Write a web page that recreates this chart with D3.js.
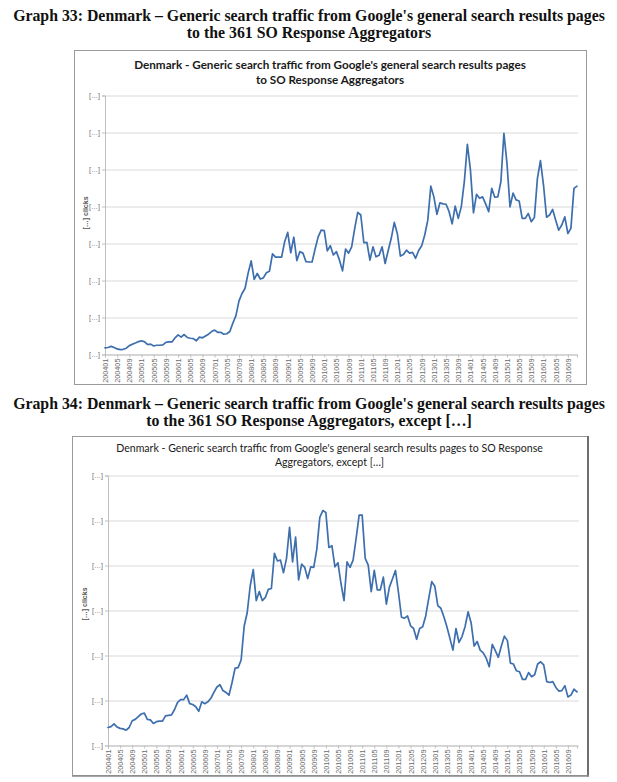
<!DOCTYPE html>
<html><head><meta charset="utf-8">
<script src="https://cdn.jsdelivr.net/npm/d3@7"></script>
<style>html,body{margin:0;padding:0;background:#fff}svg{display:block}</style>
</head><body>
<svg id="c" width="617" height="782"></svg>
<script>
// ---------- DATA ----------
const tickLabels = ["200401","200405","200409","200501","200505","200509","200601","200605","200609",
  "200701","200705","200709","200801","200805","200809","200901","200905","200909",
  "201001","201005","201009","201101","201105","201109","201201","201205","201209",
  "201301","201305","201309","201401","201405","201409","201501","201505","201509",
  "201601","201605","201609"];
const yTickLabel = "[…]";
const axisTitle = "[…] clicks";

// Graph 33: all 361 SO Response Aggregators (relative units, 1 = one gridline)
const traffic33 = [
  0.18,0.19,0.22,0.19,0.15,0.13,0.14,0.17,0.24,0.28,
  0.31,0.35,0.37,0.34,0.27,0.28,0.23,0.25,0.25,0.26,
  0.33,0.34,0.34,0.45,0.53,0.47,0.54,0.46,0.44,0.43,
  0.37,0.47,0.45,0.50,0.55,0.62,0.66,0.60,0.60,0.55,
  0.56,0.62,
  0.85,1.05,1.45,1.65,1.79,2.20,2.53,2.03,2.19,2.04,
  2.07,2.21,2.25,2.72,2.63,2.63,2.63,3.05,3.30,2.75,
  3.17,2.54,2.78,2.74,2.51,2.50,2.50,2.85,3.18,3.36,
  3.35,2.80,2.94,2.69,2.78,2.55,2.26,2.85,2.74,2.91,
  3.41,3.84,3.77,3.02,3.03,2.55,2.91,2.64,2.68,2.91,
  2.46,2.81,3.14,3.57,3.27,2.66,2.70,2.82,2.74,2.76,
  2.60,2.81,2.94,3.23,3.63,4.55,4.26,3.79,4.10,4.07,
  4.06,3.86,3.53,4.01,3.68,3.99,4.67,5.68,4.99,3.83,
  4.33,4.22,4.26,4.07,3.86,4.49,4.25,4.26,4.67,5.98,
  5.17,3.99,4.36,4.18,4.15,3.68,3.68,3.81,3.59,3.70,
  4.76,5.24,4.58,3.71,3.77,3.92,3.63,3.36,3.50,3.72,
  3.27,3.41,4.49,4.55
];

// Graph 34: all aggregators except […]
const traffic34 = [
  0.40,0.42,0.48,0.41,0.38,0.37,0.34,0.40,0.55,0.58,
  0.64,0.70,0.72,0.58,0.57,0.49,0.53,0.54,0.54,0.66,
  0.67,0.68,0.80,0.96,1.02,1.02,1.12,0.93,0.91,0.86,
  0.76,0.97,0.93,0.97,1.05,1.18,1.30,1.35,1.22,1.18,
  1.12,1.40,1.72,1.73,1.90,2.65,2.95,3.55,3.91,3.22,
  3.42,3.22,3.29,3.47,3.49,4.27,4.10,4.12,3.84,4.16,
  4.85,4.08,4.63,3.68,4.03,3.96,3.71,3.97,3.96,4.36,
  5.07,5.22,5.18,4.40,4.44,3.97,4.06,3.60,3.22,4.08,
  3.96,4.12,4.60,5.12,5.12,4.16,4.01,3.42,3.89,3.46,
  3.46,3.74,3.14,3.52,3.70,3.89,3.40,2.85,2.83,2.88,
  2.66,2.60,2.36,2.60,2.64,2.88,3.27,3.64,3.54,3.11,
  3.05,2.86,2.64,2.38,2.12,2.60,2.29,2.42,2.64,2.97,
  2.73,2.21,2.31,2.12,2.06,1.94,1.75,2.25,2.11,1.96,
  2.21,2.43,2.33,1.83,1.81,1.66,1.64,1.47,1.47,1.62,
  1.53,1.57,1.81,1.86,1.79,1.42,1.40,1.42,1.29,1.21,
  1.22,1.33,1.08,1.12,1.25,1.19
];

const heading33 = ["Graph 33: Denmark – Generic search traffic from Google's general search results pages",
                   "to the 361 SO Response Aggregators"];
const heading34 = ["Graph 34: Denmark – Generic search traffic from Google's general search results pages",
                   "to the 361 SO Response Aggregators, except […]"];
const title33 = ["Denmark - Generic search traffic from Google's general search results pages",
                 "to SO Response Aggregators"];
const title34 = ["Denmark - Generic search traffic from Google's general search results pages to SO Response",
                 "Aggregators, except […]"];
const yMax33 = 7, yMax34 = 6;

// ---------- DRAWING ----------
const svg = d3.select("#c");
svg.append("rect").attr("width",617).attr("height",782).attr("fill","#fff");

function fitText(sel, width) {
  const w = sel.node().getComputedTextLength();
  const fs = parseFloat(sel.style("font-size"));
  sel.style("font-size", (fs * width / w) + "px");
}

function heading(lines, y0, width) {
  const t1 = svg.append("text").attr("x",309).attr("y",y0).attr("text-anchor","middle")
    .style("font-family","'Liberation Serif','Times New Roman',serif").style("font-weight","bold")
    .style("font-size","14px").attr("fill","#111").text(lines[0]);
  fitText(t1, width);
  svg.append("text").attr("x",309).attr("y",y0+17).attr("text-anchor","middle")
    .style("font-family","'Liberation Serif','Times New Roman',serif").style("font-weight","bold")
    .style("font-size",t1.style("font-size")).attr("fill","#111").text(lines[1]);
}
heading(heading33, 21, 592);
heading(heading34, 409, 592);

function drawChart(o) {
  const g = svg.append("g");
  // frame
  g.append("rect").attr("x",o.fx+0.5).attr("y",o.fy+0.5).attr("width",o.fw).attr("height",o.fh)
    .attr("fill","#fff").attr("stroke",o.frameColor).attr("stroke-width",1);
  if (o.shadow) {
    g.append("line").attr("x1",o.fx+o.fw+1).attr("x2",o.fx+o.fw+1).attr("y1",o.fy).attr("y2",o.fy+o.fh+1.5)
      .attr("stroke","#6f6f6f").attr("stroke-width",2);
    g.append("line").attr("x1",o.fx).attr("x2",o.fx+o.fw+2).attr("y1",o.fy+o.fh+1).attr("y2",o.fy+o.fh+1)
      .attr("stroke","#8a8a8a").attr("stroke-width",1.5);
  }
  // title
  const cx = o.fx + o.fw/2;
  const tt = g.append("text").attr("x",cx).attr("y",o.ty).attr("text-anchor","middle")
    .style("font-family","Lato,'Open Sans',sans-serif").style("font-weight",o.titleWeight)
    .style("font-size","11px").attr("fill","#1a1a1a").text(o.title[0]);
  fitText(tt, o.titleWidth);
  g.append("text").attr("x",cx).attr("y",o.ty+o.tdy).attr("text-anchor","middle")
    .style("font-family","Lato,'Open Sans',sans-serif").style("font-weight",o.titleWeight)
    .style("font-size",tt.style("font-size")).attr("fill","#1a1a1a").text(o.title[1]);

  const n = o.data.length;
  const x = d3.scaleLinear().domain([0, n-1]).range([o.x0, o.x1]);
  const y = d3.scaleLinear().domain([0, o.yMax]).range([o.y0, o.y1]);

  // gridlines
  const grid = g.append("g").attr("transform",`translate(${o.x0},0)`)
    .call(d3.axisLeft(y).tickValues(d3.range(0,o.yMax+1)).tickSize(-(o.gx1-o.x0)).tickFormat(""));
  grid.select(".domain").remove();
  grid.selectAll("line").attr("stroke","#d9d9d9").attr("stroke-width",1);

  // y axis
  const ya = g.append("g").attr("transform",`translate(${o.x0},0)`)
    .call(d3.axisLeft(y).tickValues(d3.range(0,o.yMax+1)).tickSize(3).tickPadding(2).tickFormat(()=>yTickLabel));
  ya.select(".domain").attr("stroke","#bfbfbf");
  ya.selectAll("line").attr("stroke","#bfbfbf");
  ya.selectAll("text").style("font-family","'Liberation Sans',Arial,sans-serif")
    .style("font-size","7px").attr("fill","#6b6b6b");

  // x axis
  const idx = d3.range(0, n, 4).slice(0, tickLabels.length);
  const xa = g.append("g").attr("transform",`translate(0,${o.y0})`)
    .call(d3.axisBottom(x).tickValues(idx).tickSize(3).tickFormat((d,i)=>tickLabels[i]));
  xa.select(".domain").attr("stroke","#bfbfbf");
  xa.selectAll("line").attr("stroke","#bfbfbf");
  xa.selectAll("text").attr("transform","rotate(-90)").attr("x",-4).attr("y",0).attr("dy","0.33em")
    .style("text-anchor","end").style("font-family","'Liberation Sans',Arial,sans-serif")
    .style("font-size","7.3px").attr("fill","#6b6b6b");

  // axis title
  g.append("text").attr("transform",`translate(${o.atx},${o.aty}) rotate(-90)`).attr("text-anchor","middle")
    .style("font-family","'Liberation Sans',Arial,sans-serif").style("font-size","7px").style("font-weight","bold")
    .attr("fill","#555").text(axisTitle);

  // line
  g.append("path").datum(o.data)
    .attr("d", d3.line().x((d,i)=>x(i)).y(d=>y(d)))
    .attr("fill","none").attr("stroke","#3d6eae").attr("stroke-width",1.7)
    .attr("stroke-linejoin","round").attr("stroke-linecap","round");
}

drawChart({ data: traffic33, yMax: yMax33, title: title33, titleWeight: "bold", titleWidth: 392,
  fx: 74, fy: 50, fw: 512, fh: 334, frameColor: "#9a9a9a", shadow: false,
  ty: 69, tdy: 15, x0: 105, x1: 577, gx1: 578, y0: 354.5, y1: 95.5, atx: 88, aty: 213 });

drawChart({ data: traffic34, yMax: yMax34, title: title34, titleWeight: "normal", titleWidth: 427,
  fx: 72, fy: 436, fw: 515, fh: 339, frameColor: "#9a9a9a", shadow: true,
  ty: 452, tdy: 14, x0: 108, x1: 577, gx1: 579, y0: 745.5, y1: 475.5, atx: 87, aty: 604 });
</script>
</body></html>
